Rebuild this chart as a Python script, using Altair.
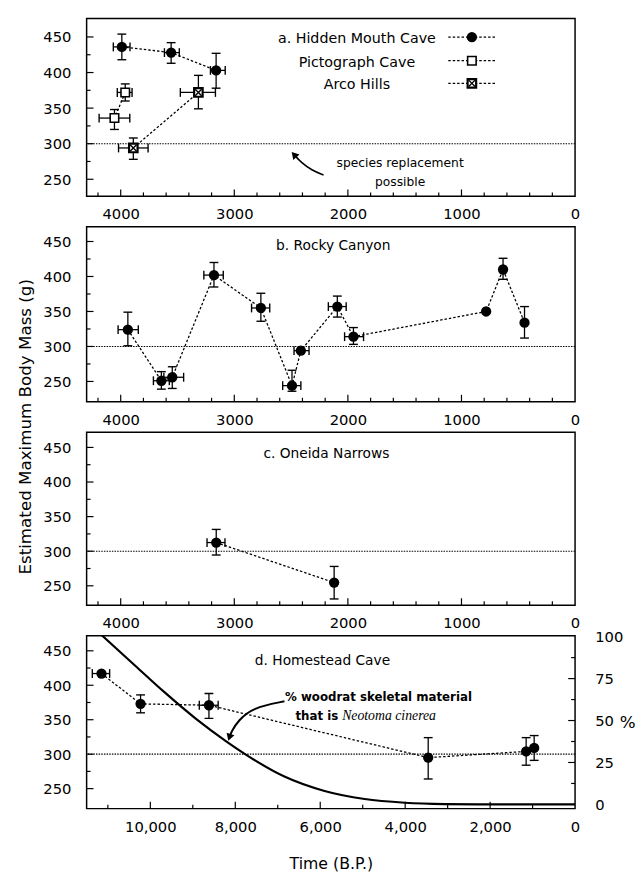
import altair as alt
import pandas as pd

FONT = "DejaVu Sans"
SERIF = "Liberation Serif"

# ---------------- data ----------------
# a. Hidden Mouth Cave / Pictograph Cave / Arco Hills
HM_NAME = "a. Hidden Mouth Cave"
HM_X = [3990, 3556, 3160]
HM_Y = [436, 428, 403]
HM_YLO = [418, 413, 378]
HM_YHI = [454, 442, 427]
HM_XOLD = [4065, 3615, 3210]
HM_XYOUNG = [3918, 3484, 3080]

PC_NAME = "Pictograph Cave"
PC_X = [3960, 4055]
PC_Y = [372, 336]
PC_YLO = [360, 320]
PC_YHI = [384, 348]
PC_XOLD = [4030, 4190]
PC_XYOUNG = [3900, 3920]

AH_NAME = "Arco Hills"
AH_X = [3889, 3316]
AH_Y = [294, 372]
AH_YLO = [278, 349]
AH_YHI = [308, 396]
AH_XOLD = [4019, 3475]
AH_XYOUNG = [3759, 3166]

# b. Rocky Canyon
RC_NAME = "b. Rocky Canyon"
RC_X = [3937, 3642, 3546, 3179, 2766, 2492, 2414, 2093, 1951, 783, 634, 445]
RC_Y = [324, 251, 256, 402, 355, 244, 294, 357, 314, 350, 410, 334]
RC_YLO = [301, 239, 240, 385, 336, 236, None, 342, 303, None, 396, 312]
RC_YHI = [349, 264, 271, 420, 376, 266, None, 372, 327, None, 426, 357]
RC_XOLD = [4023, 3712, 3620, 3268, 2848, 2574, 2474, 2172, 2029, None, None, None]
RC_XYOUNG = [3845, 3572, 3446, 3097, 2688, 2414, 2342, 2015, 1862, None, None, None]

# c. Oneida Narrows
ON_NAME = "c. Oneida Narrows"
ON_X = [3159, 2121]
ON_Y = [312.5, 254.7]
ON_YLO = [294.5, 231]
ON_YHI = [331.5, 278]
ON_XOLD = [3240, None]
ON_XYOUNG = [3082, None]

# d. Homestead Cave
HC_NAME = "d. Homestead Cave"
HC_X = [11150, 10230, 8620, 3458, 1152, 963]
HC_Y = [417, 373, 371, 295, 304, 309]
HC_YLO = [None, 360, 352, 264, 284, 291]
HC_YHI = [None, 386, 388, 324, 324, 327]
HC_XOLD = [11366, None, 8847, None, None, None]
HC_XYOUNG = [10958, None, 8403, None, None, None]

# % woodrat skeletal material that is Neotoma cinerea
NC_X = [11150, 10343, 9682, 8924, 8214, 7788, 6843, 5898, 4954, 4009, 3064, 2000, 1000, 0]
NC_PCT = [101, 82.4, 67.2, 51.0, 37.6, 30.3, 16.6, 8.0, 3.2, 1.0, 0.2, 0, 0, 0]

REF_MASS = [300]

# annotation arrows (data coordinates of their panel)
ARROW_A_X = [2214, 2318, 2413, 2474]
ARROW_A_Y = [256, 262.7, 273.7, 284.7]
ARROW_D_X = [6843, 7598, 7930, 8092, 8138]
ARROW_D_Y = [376.7, 367.4, 348.8, 332.6, 324.3]

# axis values
X_LABELS_ABC = [4000, 3000, 2000, 1000, 0]
X_MAJOR_ABC = [4000, 3000, 2000, 1000]
X_MINOR_ABC = [4200, 3800, 3600, 3400, 3200, 2800, 2600, 2400, 2200,
               1800, 1600, 1400, 1200, 800, 600, 400, 200]
X_LABELS_D = [10000, 8000, 6000, 4000, 2000, 0]
X_MAJOR_D = [10000, 8000, 6000, 4000, 2000]
X_MINOR_D = [11000, 9000, 7000, 5000, 3000, 1000]
Y_LABELS = [250, 300, 350, 400, 450]
Y_MINOR = [275, 325, 375, 425]
P_LABELS = [0, 25, 50, 75, 100]
P_MAJOR = [25, 50, 75]
P_MINOR = [12.5, 37.5, 62.5, 87.5]

# ---------------- layout ----------------
W = 497
H_A, H_B, H_C, H_D = 181, 178, 176, 176
MAJ, MIN = 7, 4
XPATH = "M-0.75,-0.75L0.75,0.75M-0.75,0.75L0.75,-0.75"
DASH = [2.5, 2]


class Panel:
    def __init__(self, xdom, ydom, xaxis, yaxis, h):
        self.xs = alt.Scale(domain=xdom, nice=False, zero=False)
        self.ys = alt.Scale(domain=ydom, nice=False, zero=False)
        self.xa = xaxis
        self.ya = yaxis
        self.h = h

    def X(self, f):
        return alt.X(f, type="quantitative", scale=self.xs, axis=self.xa)

    def Y(self, f):
        return alt.Y(f, type="quantitative", scale=self.ys, axis=self.ya)


def x_axis(values, fmt, **kw):
    return alt.Axis(values=values, format=fmt, labelPadding=11, tickSize=0,
                    labelFlush=False, **kw)


def y_axis(**kw):
    return alt.Axis(values=Y_LABELS, format="d", labelPadding=16, tickSize=0, **kw)


def marker_layers(data, xenc, yenc, kind):
    if kind == "circle":
        return [alt.Chart(data).mark_point(shape="circle", filled=True, color="black",
                                           size=110, opacity=1).encode(x=xenc, y=yenc)]
    sq = alt.Chart(data).mark_point(shape="square", filled=True, fill="white",
                                    stroke="black", strokeWidth=1.6 if kind == "square" else 2.2,
                                    size=75, opacity=1).encode(x=xenc, y=yenc)
    if kind == "square":
        return [sq]
    xx = alt.Chart(data).mark_point(shape=XPATH, filled=False, color="black",
                                    strokeWidth=1.4, size=75, opacity=1).encode(x=xenc, y=yenc)
    return [sq, xx]


def series(p, xs, ys, ylo, yhi, xold, xyoung, kind):
    df = pd.DataFrame({"i": list(range(len(xs))), "x": xs, "y": ys, "ylo": ylo,
                       "yhi": yhi, "xo": xold, "xy": xyoung})
    out = []
    if len(xs) > 1:
        out.append(alt.Chart(df).mark_line(color="black", strokeWidth=1.3, strokeDash=DASH)
                   .encode(x=p.X("x"), y=p.Y("y"), order="i:Q"))
    dv = df.dropna(subset=["ylo", "yhi"])
    if len(dv):
        out.append(alt.Chart(dv).mark_rule(color="black", strokeWidth=1.3)
                   .encode(x=p.X("x"), y=p.Y("ylo"), y2="yhi"))
        for f in ("ylo", "yhi"):
            out.append(alt.Chart(dv).mark_tick(orient="horizontal", size=9, thickness=1.4,
                                               color="black", opacity=1)
                       .encode(x=p.X("x"), y=p.Y(f)))
    dh = df.dropna(subset=["xo", "xy"])
    if len(dh):
        out.append(alt.Chart(dh).mark_rule(color="black", strokeWidth=1.3)
                   .encode(x=p.X("xo"), x2="xy", y=p.Y("y")))
        for f in ("xo", "xy"):
            out.append(alt.Chart(dh).mark_tick(orient="vertical", size=9, thickness=1.4,
                                               color="black", opacity=1)
                       .encode(x=p.X(f), y=p.Y("y")))
    out += marker_layers(df, p.X("x"), p.Y("y"), kind)
    return out


def ticks(p, xmajor, xminor):
    out = []
    for vals, ln in ((xmajor, MAJ), (xminor, MIN)):
        out.append(alt.Chart(pd.DataFrame({"v": vals})).mark_rule(color="black", strokeWidth=1.2)
                   .encode(x=p.X("v"), y=alt.value(p.h), y2=alt.value(p.h - ln)))
    for vals, ln in ((Y_LABELS, MAJ), (Y_MINOR, MIN)):
        out.append(alt.Chart(pd.DataFrame({"v": vals})).mark_rule(color="black", strokeWidth=1.2)
                   .encode(y=p.Y("v"), x=alt.value(0), x2=alt.value(ln)))
    return out


def ref_line(p, width=1.1):
    return alt.Chart(pd.DataFrame({"v": REF_MASS})).mark_rule(
        color="black", strokeWidth=width, strokeDash=[1.5, 1.2]).encode(y=p.Y("v"))


def label(text, x, y, size=14, **kw):
    return alt.Chart(pd.DataFrame({"t": [text]})).mark_text(
        font=kw.pop("font", FONT), fontSize=size, color="black", align=kw.pop("align", "center"),
        baseline="middle", **kw).encode(x=alt.value(x), y=alt.value(y), text="t:N")


def arrow(p, xs, ys, angle, width):
    df = pd.DataFrame({"i": list(range(len(xs))), "x": xs, "y": ys})
    line = alt.Chart(df).mark_line(color="black", strokeWidth=width, interpolate="basis") \
        .encode(x=p.X("x"), y=p.Y("y"), order="i:Q")
    head = alt.Chart(df.tail(1)).mark_point(shape="triangle-up", filled=True, color="black",
                                            size=70, angle=angle, opacity=1) \
        .encode(x=p.X("x"), y=p.Y("y"))
    return [line, head]


# ---------------- panel a ----------------
pa = Panel([4300, 0], [226, 476], x_axis(X_LABELS_ABC, "d", title=None), y_axis(title=None), H_A)
layers_a = [ref_line(pa)] + ticks(pa, X_MAJOR_ABC, X_MINOR_ABC)
layers_a += series(pa, HM_X, HM_Y, HM_YLO, HM_YHI, HM_XOLD, HM_XYOUNG, "circle")
layers_a += series(pa, PC_X, PC_Y, PC_YLO, PC_YHI, PC_XOLD, PC_XYOUNG, "square")
layers_a += series(pa, AH_X, AH_Y, AH_YLO, AH_YHI, AH_XOLD, AH_XYOUNG, "xsquare")
for name, yy, kind in ((HM_NAME, 19, "circle"), (PC_NAME, 43, "square"), (AH_NAME, 66, "xsquare")):
    layers_a.append(label(name, 275, yy + 2, size=14.5))
    layers_a.append(alt.Chart(pd.DataFrame({"t": [name]})).mark_rule(
        color="black", strokeWidth=1.3, strokeDash=DASH)
        .encode(x=alt.value(368), x2=alt.value(417), y=alt.value(yy)))
    layers_a += marker_layers(pd.DataFrame({"t": [name]}), alt.value(392), alt.value(yy), kind)
layers_a.append(label("species replacement", 319, 147, size=12.5))
layers_a.append(label("possible", 319, 166, size=12.5))
layers_a += arrow(pa, ARROW_A_X, ARROW_A_Y, 319, 1.6)
chart_a = alt.layer(*layers_a).properties(width=W, height=H_A)

# ---------------- panel b ----------------
pb = Panel([4300, 0], [221, 471], x_axis(X_LABELS_ABC, "d", title=None), y_axis(title=None), H_B)
layers_b = [ref_line(pb)] + ticks(pb, X_MAJOR_ABC, X_MINOR_ABC)
layers_b += series(pb, RC_X, RC_Y, RC_YLO, RC_YHI, RC_XOLD, RC_XYOUNG, "circle")
layers_b.append(label(RC_NAME, 251, 20))
chart_b = alt.layer(*layers_b).properties(width=W, height=H_B)

# ---------------- panel c ----------------
pc = Panel([4300, 0], [222, 472], x_axis(X_LABELS_ABC, "d", title=None),
           y_axis(title="Estimated Maximum Body Mass (g)", titleX=-62, titleY=-6,
                  titleAngle=270, titleAlign="center", titleBaseline="middle",
                  titleFontSize=17), H_C)
layers_c = [ref_line(pc)] + ticks(pc, X_MAJOR_ABC, X_MINOR_ABC)
layers_c += series(pc, ON_X, ON_Y, ON_YLO, ON_YHI, ON_XOLD, ON_XYOUNG, "circle")
layers_c.append(label(ON_NAME, 244, 22))
chart_c = alt.layer(*layers_c).properties(width=W, height=H_C)

# ---------------- panel d ----------------
pdd = Panel([11500, 0], [221, 472],
            x_axis(X_LABELS_D, ",d", title="Time (B.P.)", titleFontSize=16, titleY=56,
                   titleBaseline="middle"),
            y_axis(title=None), H_D)
layers_d = [ref_line(pdd, 1.4)] + ticks(pdd, X_MAJOR_D, X_MINOR_D)
layers_d += series(pdd, HC_X, HC_Y, HC_YLO, HC_YHI, HC_XOLD, HC_XYOUNG, "circle")
layers_d.append(label(HC_NAME, 240, 26))
layers_d.append(label("% woodrat skeletal material", 297, 63, size=12, fontWeight="bold"))
layers_d.append(label("that is", 256, 82, size=12, fontWeight="bold", align="right"))
layers_d.append(label("Neotoma cinerea", 260, 82, size=14, font=SERIF, fontStyle="italic",
                      align="left"))
layers_d += arrow(pdd, ARROW_D_X, ARROW_D_Y, 198, 2)
left_d = alt.layer(*layers_d)

p_scale = alt.Scale(domain=[-2.5, 100.6], nice=False, zero=False)
p_axis = alt.Axis(orient="right", values=P_LABELS, format="d", labelPadding=20, tickSize=0,
                  title="%", titleAngle=0, titleX=53, titleY=88, titleAlign="center",
                  titleBaseline="middle", titleFontSize=17)
curve = alt.Chart(pd.DataFrame({"x": NC_X, "p": NC_PCT})).mark_line(
    color="black", strokeWidth=2.2, interpolate="monotone", clip=True).encode(
    x=pdd.X("x"), y=alt.Y("p", type="quantitative", scale=p_scale, axis=p_axis))
rt = []
for vals, ln in ((P_MAJOR, MAJ), (P_MINOR, MIN)):
    rt.append(alt.Chart(pd.DataFrame({"v": vals})).mark_rule(color="black", strokeWidth=1.2)
              .encode(y=alt.Y("v", type="quantitative", scale=p_scale, axis=p_axis),
                      x=alt.value(W), x2=alt.value(W - ln)))
right_d = alt.layer(curve, *rt)
chart_d = alt.layer(left_d, right_d).resolve_scale(y="independent").properties(width=W, height=H_D)

chart = alt.vconcat(chart_a, chart_b, chart_c, chart_d, spacing=31, bounds="flush").properties(
    padding={"left": 8, "top": 2, "right": 0, "bottom": 0}
).configure_view(stroke="black", strokeWidth=1.5).configure_axis(
    grid=False, ticks=False, domain=False, labelFont=FONT, labelFontSize=15, labelColor="black",
    titleFont=FONT, titleColor="black", titleFontWeight="normal"
)

chart.save("out.html", embed_options={"renderer": "svg", "actions": False})
